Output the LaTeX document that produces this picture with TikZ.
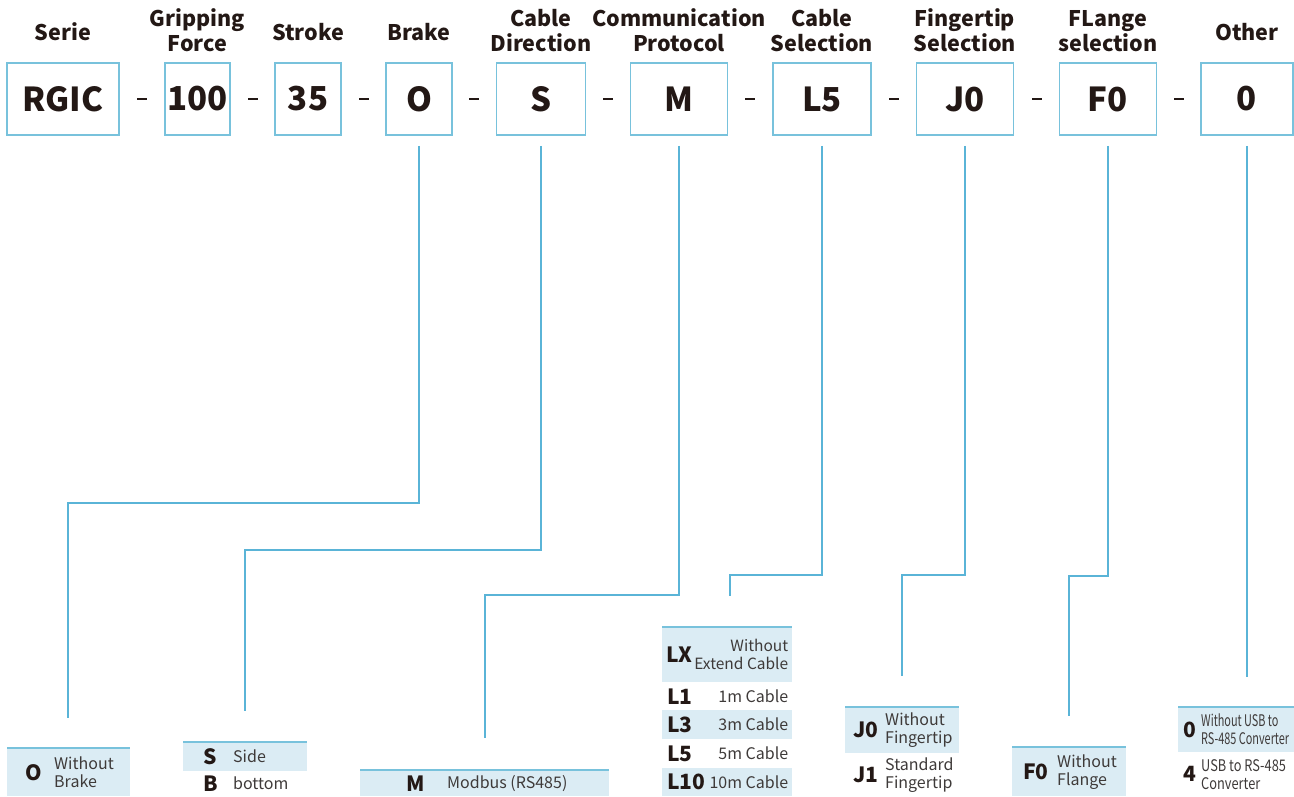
\documentclass[tikz,border=0pt]{standalone}
\usepackage{fontspec}
\setmainfont{Noto Sans CJK SC}
\newfontfamily\narrowa{Noto Sans CJK SC}[FakeStretch=0.68]
\newfontfamily\narrowb{Noto Sans CJK SC}[FakeStretch=0.8]
\usetikzlibrary{positioning,calc}
\definecolor{boxblue}{HTML}{78C2DC}
\definecolor{lineblue}{HTML}{5AB4D7}
\definecolor{rowfill}{HTML}{DBECF4}
\definecolor{ink}{HTML}{231815}
\definecolor{grayink}{HTML}{3E3A39}

\begin{document}
\begin{tikzpicture}
[x=1pt,y=-1pt,
 head/.style={font=\fontsize{21.5}{25}\selectfont\bfseries,text=ink,align=center,inner sep=0pt,text depth=0pt},
 part/.style={draw=boxblue,line width=1.6pt,minimum height=72pt,inner sep=0pt,font=\fontsize{33}{36}\selectfont\bfseries,text=ink},
 minus/.style={fill=ink,inner sep=0pt,minimum width=10pt,minimum height=1.6pt},
 link/.style={draw=lineblue,line width=1.5pt},
 row/.style={anchor=north west,inner sep=0pt},
 shaded/.style={fill=rowfill},
 rule/.style={draw=boxblue,line width=2.2pt},
 code/.style={font=\fontsize{21}{24}\selectfont\bfseries,text=ink,inner sep=0pt},
 desc/.style={font=\fontsize{16}{18}\selectfont,text=grayink,inner sep=0pt,align=left}]
\useasboundingbox (0,0) rectangle (1294,796);

% part number
\node[part,minimum width=112pt] (bSerie) at (63,99) {RGIC};
\node[part,minimum width=65pt] (bForce) at (197.5,99) {100};
\node[part,minimum width=66pt] (bStroke) at (308,99) {35};
\node[part,minimum width=66pt] (bBrake) at (419,99) {O};
\node[part,minimum width=89pt] (bDir) at (541,99) {S};
\node[part,minimum width=97pt] (bProto) at (679,99) {M};
\node[part,minimum width=98pt] (bCable) at (822,99) {L5};
\node[part,minimum width=97pt] (bFinger) at (965,99) {J0};
\node[part,minimum width=97pt] (bFlange) at (1108,99) {F0};
\node[part,minimum width=92pt] (bOther) at (1247,99) {0};

\node[head,above=22pt of bSerie] (hSerie) {Serie};
\node[head,above=11pt of bForce] (hForce) {Gripping\\Force};
\node[head,above=22pt of bStroke] (hStroke) {Stroke};
\node[head,above=22pt of bBrake] (hBrake) {Brake};
\node[head,above=11pt of bDir] (hDir) {Cable\\Direction};
\node[head,above=11pt of bProto] (hProto) {Communication\\Protocol};
\node[head,above=11pt of bCable] (hCable) {Cable\\Selection};
\node[head,above=11pt of bFinger] (hFinger) {Fingertip\\Selection};
\node[head,above=11pt of bFlange] (hFlange) {FLange\\selection};
\node[head,above=22pt of bOther] (hOther) {Other};

\node[minus] (m1) at ($(bSerie.east)!.5!(bForce.west)$) {};
\node[minus] (m2) at ($(bForce.east)!.5!(bStroke.west)$) {};
\node[minus] (m3) at ($(bStroke.east)!.5!(bBrake.west)$) {};
\node[minus] (m4) at ($(bBrake.east)!.5!(bDir.west)$) {};
\node[minus] (m5) at ($(bDir.east)!.5!(bProto.west)$) {};
\node[minus] (m6) at ($(bProto.east)!.5!(bCable.west)$) {};
\node[minus] (m7) at ($(bCable.east)!.5!(bFinger.west)$) {};
\node[minus] (m8) at ($(bFinger.east)!.5!(bFlange.west)$) {};
\node[minus] (m9) at ($(bFlange.east)!.5!(bOther.west)$) {};

% option tables
\node[row,shaded,minimum width=123pt,minimum height=48pt] (rO) at (7,748) {};
\draw[rule] (rO.north west) -- (rO.north east);
\node[code,anchor=west,right=18pt of rO.west] (kO) {O};
\node[desc,right=47pt of rO.west] (dO) {Without\\Brake};

\node[row,shaded,minimum width=124pt,minimum height=29pt] (rS) at (183,742) {};
\node[row,minimum width=124pt,minimum height=25pt] (rB) at (183,771) {};
\draw[rule] (rS.north west) -- (rS.north east);
\node[code,right=20pt of rS.west] (kS) {S};
\node[desc,right=50pt of rS.west] (dS) {Side};
\node[code,right=20pt of rB.west] (kB) {B};
\node[desc,right=50pt of rB.west] (dB) {bottom};

\node[row,shaded,minimum width=249pt,minimum height=26pt] (rM) at (360,770) {};
\draw[rule] (rM.north west) -- (rM.north east);
\node[code,right=46pt of rM.west] (kM) {M};
\node[desc,right=87pt of rM.west] (dM) {Modbus (RS485)};

\node[row,shaded,minimum width=130pt,minimum height=55pt] (rLX) at (662,627) {};
\node[row,minimum width=130pt,minimum height=28pt] (rL1) at (662,682) {};
\node[row,shaded,minimum width=130pt,minimum height=29pt] (rL3) at (662,710) {};
\node[row,minimum width=130pt,minimum height=29pt] (rL5) at (662,739) {};
\node[row,shaded,minimum width=130pt,minimum height=28pt] (rL10) at (662,768) {};
\draw[rule] (rLX.north west) -- (rLX.north east);
\node[code,right=4pt of rLX.west] (kLX) {LX};
\node[desc,font=\fontsize{15.5}{18}\selectfont,align=right,left=4pt of rLX.east] (dLX) {Without\\Extend Cable};
\node[code,right=5pt of rL1.west] (kL1) {L1};
\node[desc,left=4pt of rL1.east] (dL1) {1m Cable};
\node[code,right=5pt of rL3.west] (kL3) {L3};
\node[desc,left=4pt of rL3.east] (dL3) {3m Cable};
\node[code,right=5pt of rL5.west] (kL5) {L5};
\node[desc,left=4pt of rL5.east] (dL5) {5m Cable};
\node[code,right=5pt of rL10.west] (kL10) {L10};
\node[desc,left=4pt of rL10.east] (dL10) {10m Cable};

\node[row,shaded,minimum width=114pt,minimum height=46pt] (rJ0) at (845,707) {};
\node[row,minimum width=114pt,minimum height=43pt] (rJ1) at (845,753) {};
\draw[rule] (rJ0.north west) -- (rJ0.north east);
\node[code,right=8pt of rJ0.west] (kJ0) {J0};
\node[desc,right=40pt of rJ0.west] (dJ0) {Without\\Fingertip};
\node[code,right=8pt of rJ1.west] (kJ1) {J1};
\node[desc,right=40pt of rJ1.west] (dJ1) {Standard\\Fingertip};

\node[row,shaded,minimum width=114pt,minimum height=49pt] (rF0) at (1012,747) {};
\draw[rule] (rF0.north west) -- (rF0.north east);
\node[code,right=11pt of rF0.west] (kF0) {F0};
\node[desc,right=45pt of rF0.west] (dF0) {Without\\Flange};

\node[row,shaded,minimum width=116pt,minimum height=45pt] (rN0) at (1178,707) {};
\node[row,minimum width=116pt,minimum height=44pt] (rN4) at (1178,752) {};
\draw[rule] (rN0.north west) -- (rN0.north east);
\node[code,right=5pt of rN0.west] (kN0) {0};
\node[desc,font=\narrowa\fontsize{16}{18}\selectfont,right=23pt of rN0.west] (dN0) {Without USB to\\RS-485 Converter};
\node[code,right=5pt of rN4.west] (kN4) {4};
\node[desc,font=\narrowb\fontsize{16}{18}\selectfont,right=23pt of rN4.west] (dN4) {USB to RS-485\\Converter};

% connectors
\coordinate (cBrake) at (68,503);
\coordinate (tBrake) at (68,718);
\coordinate (cDir) at (245,550);
\coordinate (tDir) at (245,711);
\coordinate (cProto) at (485,595);
\coordinate (tProto) at (485,738);
\coordinate (cCable) at (730,575);
\coordinate (tCable) at (730,596);
\coordinate (cFinger) at (902,575);
\coordinate (tFinger) at (902,676);
\coordinate (cFlange) at (1069,576);
\coordinate (tFlange) at (1069,716);
\coordinate (tOther) at (1247,677);
\draw[link] ([yshift=-10pt]bBrake.south) |- (cBrake) -- (tBrake);
\draw[link] ([yshift=-10pt]bDir.south) |- (cDir) -- (tDir);
\draw[link] ([yshift=-10pt]bProto.south) |- (cProto) -- (tProto);
\draw[link] ([yshift=-10pt]bCable.south) |- (cCable) -- (tCable);
\draw[link] ([yshift=-10pt]bFinger.south) |- (cFinger) -- (tFinger);
\draw[link] ([yshift=-10pt]bFlange.south) |- (cFlange) -- (tFlange);
\draw[link] ([yshift=-10pt]bOther.south) -- (tOther);
\end{tikzpicture}
\end{document}
